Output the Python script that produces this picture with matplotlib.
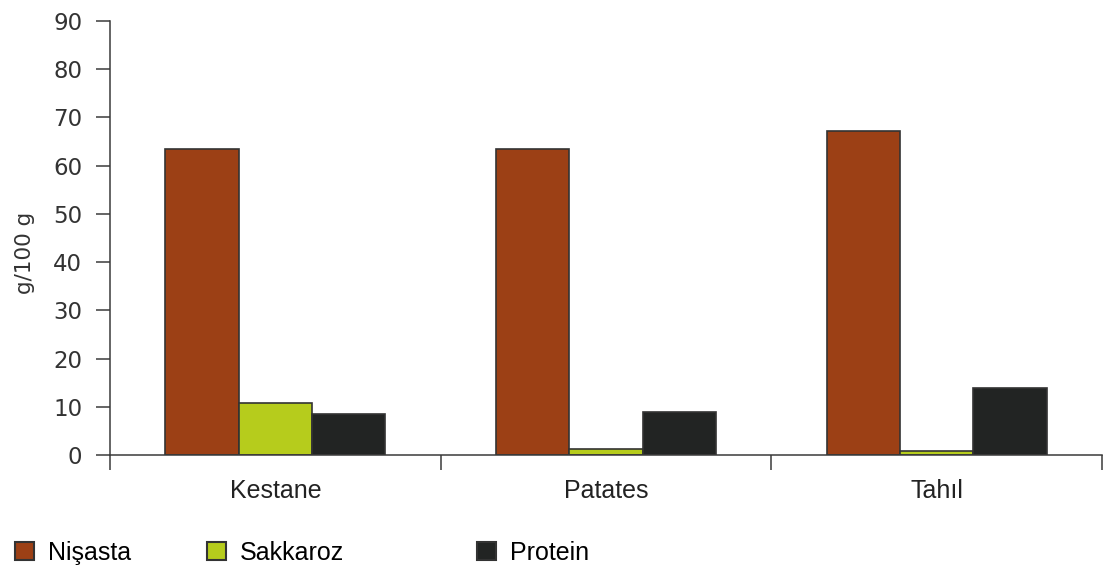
import matplotlib
matplotlib.use("Agg")
import matplotlib.pyplot as plt
from matplotlib.patches import Patch
import numpy as np

categories = ["Kestane", "Patates", "Tahıl"]
series_names = ["Nişasta", "Sakkaroz", "Protein"]
nisasta = [63.5, 63.5, 67.2]
sakkaroz = [10.8, 1.3, 0.9]
protein = [8.5, 9.0, 13.8]
y_ticks = [0, 10, 20, 30, 40, 50, 60, 70, 80, 90]

colors = ["#9C4015", "#B6CC1C", "#222423"]
edge = "#333333"
axis_col = "#3a3a3a"

W, H = 1103, 572
fig = plt.figure(figsize=(W / 100, H / 100), dpi=100)
ax = fig.add_axes([110 / W, (H - 455) / H, (1102 - 110) / W, (455 - 21) / H])

x = np.arange(len(categories)) + 0.5
bw = 0.222
for i, (vals, c) in enumerate(zip([nisasta, sakkaroz, protein], colors)):
    ax.bar(x + (i - 1) * bw, vals, width=bw, color=c, edgecolor=edge,
           linewidth=1.2, zorder=2)

ax.set_xlim(0, 3)
ax.set_ylim(0, 90)
ax.set_yticks(y_ticks)
ax.set_yticklabels([str(v) for v in y_ticks], fontsize=16.5, color="#333333",
                   family="DejaVu Sans")
ax.set_xticks([0, 1, 2, 3])
ax.set_xticklabels([])
ax.set_xticks(x, minor=True)
ax.set_xticklabels(categories, minor=True, fontsize=18, color="#222222",
                   family="Liberation Sans")
ax.tick_params(axis="x", which="major", direction="out", length=11,
               width=1.1, color=axis_col)
ax.tick_params(axis="x", which="minor", length=0, pad=17)
ax.tick_params(axis="y", direction="out", length=10, width=1.1,
               color=axis_col, pad=10)

for s in ["top", "right"]:
    ax.spines[s].set_visible(False)
for s in ["left", "bottom"]:
    ax.spines[s].set_color(axis_col)
    ax.spines[s].set_linewidth(1.1)

fig.text(25 / W, 1 - 253 / H, "g/100 g", rotation=90, ha="center",
         va="center", fontsize=15.5, color="#333333", family="DejaVu Sans")

# one legend entry per position along the bottom
legend_x = [15, 207, 477]
for name, c, lx in zip(series_names, colors, legend_x):
    h = Patch(facecolor=c, edgecolor=edge, linewidth=1.5)
    fig.legend([h], [name], loc="center left",
               bbox_to_anchor=(lx / W, 1 - 553 / H), frameon=False,
               borderpad=0, borderaxespad=0, handlelength=0.75,
               handleheight=0.75, handletextpad=0.55,
               prop={"family": "Liberation Sans", "size": 18})

fig.savefig("out.png", dpi=100, facecolor="white")
